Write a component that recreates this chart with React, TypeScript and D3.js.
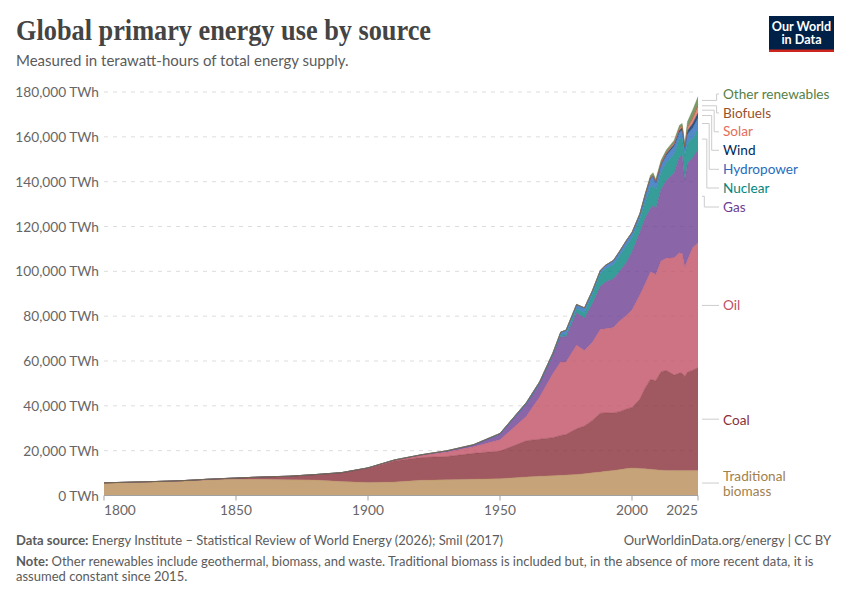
import React from "react";
import * as d3 from "d3";

const years = [1800,1810,1820,1830,1840,1850,1860,1870,1880,1890,1900,1910,1920,1930,1940,1950,1960,1965,1970,1973,1975,1979,1982,1985,1988,1990,1993,1995,1998,2000,2003,2005,2007,2008,2009,2011,2013,2016,2018,2019,2020,2021,2023,2025];
const traditional = [5556,5833,6111,6389,6944,7222,7222,7000,6900,6200,5800,6000,6800,7000,7300,7500,8300,8600,8800,9000,9100,9400,9700,10100,10500,10800,11200,11500,12000,12300,12100,11900,11700,11600,11500,11300,11200,11100,11100,11100,11100,11100,11100,11100];
const coal = [94,127,149,261,356,578,1058,1600,2400,3900,6300,9400,10100,10400,11500,12300,16100,16500,17000,17800,18100,20360,21300,23400,26200,26000,25700,25800,26600,27000,30900,36100,40100,39900,39700,43900,44600,42600,43500,43400,42000,43900,44800,45900];
const oil = [0,0,0,0,0,0,0,6,33,89,181,300,1000,2000,2900,5050,10900,18800,28500,32700,32400,37240,33700,34900,37400,37600,38100,40200,41800,43500,46500,46500,47900,47800,47300,49400,50000,52400,53700,53400,48800,50000,54700,55600];
const gas = [0,0,0,0,0,0,0,0,10,30,60,150,200,500,800,2500,5500,6000,8200,11500,11100,14500,14500,17100,19200,20800,21700,22000,23800,25800,28000,29200,28300,30200,29300,31900,34700,37900,42700,43900,38800,43200,40100,41800];
const nuclear = [0,0,0,0,0,0,0,0,0,0,0,0,0,0,0,0,0,50,100,500,1000,1800,2300,4000,5600,5900,6200,6800,7400,6300,5800,7000,9500,8600,8300,7500,7800,8300,8000,8000,11000,8900,8600,9200];
const hydro = [0,0,0,0,0,0,0,0,0,0,0,20,50,100,200,350,700,750,900,1400,2000,1900,2200,1900,1500,1600,2000,2100,2400,2400,2400,3400,4100,4100,3300,3300,3400,3500,3000,3000,3000,4000,4600,4700];
const wind = [0,0,0,0,0,0,0,0,0,0,0,0,0,0,0,0,0,0,0,0,0,0,0,0,0,0,0,0,0,0,0,100,150,250,300,500,700,900,1100,1200,700,1600,2100,2400];
const solar = [0,0,0,0,0,0,0,0,0,0,0,0,0,0,0,0,0,0,0,0,0,0,0,0,0,0,0,0,0,0,0,0,0,20,30,50,150,300,500,600,300,1000,1700,2400];
const biofuels = [0,0,0,0,0,0,0,0,0,0,0,0,0,0,0,0,0,0,0,0,0,0,0,0,0,0,0,0,0,0,0,100,350,530,470,650,650,600,600,500,200,800,1300,1500];
const otherRenew = [0,0,0,0,0,0,0,0,0,0,0,0,0,0,0,0,0,0,0,100,100,100,100,100,100,100,100,100,100,200,200,500,800,1000,800,1000,900,900,1000,900,400,2200,3000,3300];

const seriesNames = ["Traditional biomass","Coal","Oil","Gas","Nuclear","Hydropower","Wind","Solar","Biofuels","Other renewables"];
const seriesValues = [traditional,coal,oil,gas,nuclear,hydro,wind,solar,biofuels,otherRenew];
const fillColors = ["#B88C56","#883039","#C15065","#6D3E91","#058580","#286BBB","#00295B","#E56E5A","#9A5129","#578145"];
const labelColors = ["#A2814D","#883039","#C15065","#6D3E91","#058580","#286BBB","#00295B","#E56E5A","#9A5129","#578145"];

const yTicks = [0,20000,40000,60000,80000,100000,120000,140000,160000,180000];
const xTicks = [1800,1850,1900,1950,2000,2025];

// label layout, same order as seriesNames
const labelY = [476.5,420,305.2,207,188,169.3,150.3,131.8,113,94];
const elbowX = [0,0,0,704.3,706.8,709.2,711.7,714.2,716.6,716.6];

const title = "Global primary energy use by source";
const subtitle = "Measured in terawatt-hours of total energy supply.";
const sourceText = "Energy Institute – Statistical Review of World Energy (2026); Smil (2017)";
const creditText = "OurWorldinData.org/energy | CC BY";
const noteLine1 = "Other renewables include geothermal, biomass, and waste. Traditional biomass is included but, in the absence of more recent data, it is";
const noteLine2 = "assumed constant since 2015.";

const FONT = "Lato, sans-serif";
const GREY = "#5b5b5b";

export default function App() {
  const x = d3.scaleLinear().domain([1800, 2025]).range([104, 698]);
  const y = d3.scaleLinear().domain([0, 180000]).range([495.5, 92]);
  const rows = years.map((yr, i) => {
    const r: Record<string, number> = { year: yr };
    seriesNames.forEach((n, k) => (r[n] = seriesValues[k][i]));
    return r;
  });
  const stacked = d3.stack<Record<string, number>>().keys(seriesNames)(rows);
  const area = d3
    .area<any>()
    .x((d) => x(d.data.year))
    .y0((d) => y(d[0]))
    .y1((d) => y(d[1]));
  const topLine = d3
    .line<any>()
    .x((d) => x(d.data.year))
    .y((d) => y(d[1]));
  const fmt = d3.format(",");

  return (
    <svg
      width={850}
      height={600}
      viewBox="0 0 850 600"
      style={{ position: "absolute", left: 0, top: 0, background: "#fff" }}
      fontFamily={FONT}
    >
      <text x={16} y={40} fontFamily="'Liberation Serif', serif" fontWeight={700} fontSize={28.5} fill="#444" textLength={415} lengthAdjust="spacingAndGlyphs">
        {title}
      </text>
      <text x={16} y={66} fontSize={15} fill={GREY}>{subtitle}</text>

      <g>
        <rect x={769} y={16} width={65} height={36} fill="#002147" />
        <rect x={769} y={49.5} width={65} height={2.5} fill="#CE261E" />
        <text x={801.5} y={31} textAnchor="middle" fontSize={12.6} fontWeight={700} fill="#fff">Our World</text>
        <text x={801.5} y={43.5} textAnchor="middle" fontSize={12.6} fontWeight={700} fill="#fff">in Data</text>
      </g>

      {yTicks.map((t) => (
        <g key={t}>
          {t > 0 && (
            <line x1={104} x2={698} y1={y(t)} y2={y(t)} stroke="#ddd" strokeDasharray="4 5" />
          )}
          <text x={99} y={y(t) + 0.4} dy="0.34em" textAnchor="end" fontSize={13.7} fill="#666">
            {fmt(t)} TWh
          </text>
        </g>
      ))}

      {stacked.map((s, i) => (
        <path key={s.key} d={area(s) as string} fill={fillColors[i]} fillOpacity={0.8} stroke="none" />
      ))}
      {stacked.map((s, i) => (
        <path key={s.key} d={topLine(s) as string} fill="none" stroke={fillColors[i]} strokeWidth={0.5} strokeOpacity={0.7} />
      ))}

      <line x1={104} x2={698} y1={y(0)} y2={y(0)} stroke="#a1a1a1" />
      {xTicks.map((t, i) => (
        <g key={t}>
          <line x1={x(t)} x2={x(t)} y1={y(0)} y2={y(0) + 5} stroke="#a1a1a1" />
          <text
            x={x(t)}
            y={515}
            textAnchor={i === 0 ? "start" : i === xTicks.length - 1 ? "end" : "middle"}
            fontSize={13.7}
            fill="#666"
          >
            {t}
          </text>
        </g>
      ))}

      {stacked.map((s, i) => {
        const last = s[s.length - 1];
        const sy = y((last[0] + last[1]) / 2);
        const ly = i === 0 ? 483.5 : labelY[i];
        const d =
          elbowX[i] === 0
            ? `M702,${sy}H719`
            : `M702,${sy}H${elbowX[i]}V${ly}H719`;
        return <path key={s.key} d={d} fill="none" stroke="#ccc" strokeWidth={1} />;
      })}
      {seriesNames.map((n, i) =>
        i === 0 ? (
          <text key={n} fontSize={13.6} fill={labelColors[i]}>
            <tspan x={723} y={481}>Traditional</tspan>
            <tspan x={723} y={496}>biomass</tspan>
          </text>
        ) : (
          <text key={n} x={723} y={labelY[i]} dy="0.34em" fontSize={13.6} fill={labelColors[i]}>
            {n}
          </text>
        )
      )}

      <text x={16} y={545} fontSize={13} fill={GREY}>
        <tspan fontWeight={700}>Data source:</tspan> {sourceText}
      </text>
      <text x={831} y={545} textAnchor="end" fontSize={13} fill={GREY}>{creditText}</text>
      <text x={16} y={566} fontSize={13} fill={GREY}>
        <tspan fontWeight={700}>Note:</tspan> {noteLine1}
      </text>
      <text x={16} y={581} fontSize={13} fill={GREY}>{noteLine2}</text>
    </svg>
  );
}
